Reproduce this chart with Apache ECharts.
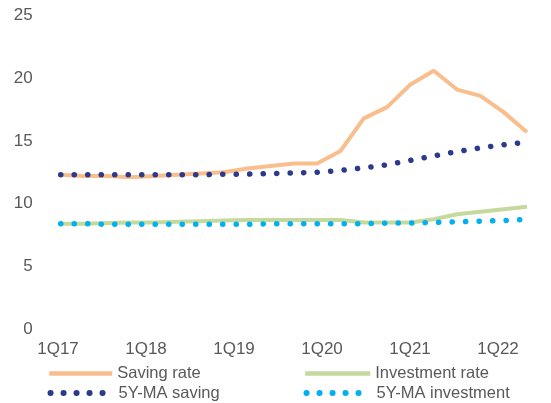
<!DOCTYPE html>
<html>
<head>
<meta charset="utf-8">
<script src="https://cdn.jsdelivr.net/npm/echarts@6/dist/echarts.min.js"></script>
<style>
  html, body { margin: 0; padding: 0; background: #fff; }
  #main { width: 551px; height: 403px; }
</style>
</head>
<body>
<div id="main"></div>
<script>
  // quarterly data, 1Q17 .. 1Q22
  const quarters = ['1Q17', '2Q17', '3Q17', '4Q17', '1Q18', '2Q18', '3Q18', '4Q18',
    '1Q19', '2Q19', '3Q19', '4Q19', '1Q20', '2Q20', '3Q20', '4Q20',
    '1Q21', '2Q21', '3Q21', '4Q21', '1Q22']
  const savingRate = [12.3, 12.2, 12.2, 12.1, 12.2, 12.3, 12.4, 12.5, 12.8, 13.0, 13.2,
    13.2, 14.2, 16.8, 17.7, 19.5, 20.6, 19.1, 18.6, 17.3, 15.7]
  const investmentRate = [8.4, 8.4, 8.45, 8.5, 8.5, 8.55, 8.6, 8.65, 8.7, 8.7, 8.7,
    8.7, 8.7, 8.5, 8.5, 8.5, 8.75, 9.15, 9.35, 9.55, 9.75]
  const maSaving = [12.3, 12.3, 12.3, 12.3, 12.3, 12.3, 12.3, 12.35, 12.35, 12.4, 12.45,
    12.5, 12.65, 12.85, 13.1, 13.45, 13.8, 14.15, 14.45, 14.7, 14.9]
  const maInvestment = [8.4, 8.4, 8.35, 8.35, 8.35, 8.35, 8.35, 8.35, 8.35, 8.4, 8.4,
    8.4, 8.4, 8.4, 8.45, 8.45, 8.5, 8.55, 8.6, 8.65, 8.75]
  // tick labels shown under the axis
  const tickLabels = ['1Q17', '1Q18', '1Q19', '1Q20', '1Q21', '1Q22']

  const font = 'Liberation Sans, Arial, sans-serif'
  const grey = '#595959'
  const dots = [0.1, 13.4]
  // five dots then blank, like the legend sample in the original
  const legendDots = [0.1, 12.9, 0.1, 12.9, 0.1, 12.9, 0.1, 12.9, 0.1, 40]

  const chart = echarts.init(document.getElementById('main'))

  function legendAt(name, left, top, width, color, dotted) {
    return {
      data: [name],
      left: left,
      top: top,
      itemWidth: width,
      itemHeight: 14,
      padding: 0,
      selectedMode: false,
      itemStyle: { opacity: 0 },
      lineStyle: dotted
        ? { color: color, width: 6, type: legendDots, cap: 'round' }
        : { color: color, width: 4.5, type: 'solid' },
      textStyle: { color: grey, fontSize: 16.5, fontFamily: font }
    }
  }

  const option = {
    animation: false,
    grid: [
      { left: 60.7, right: 24, top: 15.6, bottom: 74 },
      { left: 58, right: 53, top: 15.6, bottom: 74 }
    ],
    legend: [
      legendAt('Saving rate', 47, 365, 63, '#F9BE8E', false),
      legendAt('Investment rate', 303, 365, 65, '#C5D99D', false),
      legendAt('5Y-MA saving', 47.5, 384.5, 63, '#2B3A8A', true),
      legendAt('5Y-MA investment', 303.5, 384.5, 65, '#00B0F0', true)
    ],
    xAxis: [{
      type: 'category',
      gridIndex: 0,
      boundaryGap: false,
      data: quarters,
      axisLine: { show: false },
      axisTick: { show: false },
      axisLabel: { show: false }
    }, {
      // label-only axis
      type: 'category',
      gridIndex: 1,
      boundaryGap: false,
      data: tickLabels,
      axisLine: { show: false },
      axisTick: { show: false },
      axisLabel: {
        color: grey,
        fontSize: 17,
        fontFamily: font,
        margin: 12,
        interval: 0
      }
    }],
    yAxis: [{
      type: 'value',
      gridIndex: 0,
      min: 0,
      max: 25,
      interval: 5,
      axisLine: { show: false },
      axisTick: { show: false },
      splitLine: { show: false },
      axisLabel: {
        color: grey,
        fontSize: 17,
        fontFamily: font,
        margin: 28
      }
    }, {
      type: 'value',
      gridIndex: 1,
      show: false,
      min: 0,
      max: 25
    }],
    series: [{
      name: 'Saving rate',
      type: 'line',
      symbol: 'none',
      data: savingRate,
      color: '#F9BE8E',
      lineStyle: { color: '#F9BE8E', width: 4 },
      z: 2
    }, {
      name: 'Investment rate',
      type: 'line',
      symbol: 'none',
      data: investmentRate,
      color: '#C5D99D',
      lineStyle: { color: '#C5D99D', width: 4 },
      z: 2
    }, {
      name: '5Y-MA saving',
      type: 'line',
      symbol: 'none',
      data: maSaving,
      color: '#2B3A8A',
      lineStyle: { color: '#2B3A8A', width: 5.5, type: dots, cap: 'round' },
      z: 3
    }, {
      name: '5Y-MA investment',
      type: 'line',
      symbol: 'none',
      data: maInvestment,
      color: '#00B0F0',
      lineStyle: { color: '#00B0F0', width: 5.5, type: dots, cap: 'round' },
      z: 3
    }]
  }
  chart.setOption(option, true)
</script>
</body>
</html>
